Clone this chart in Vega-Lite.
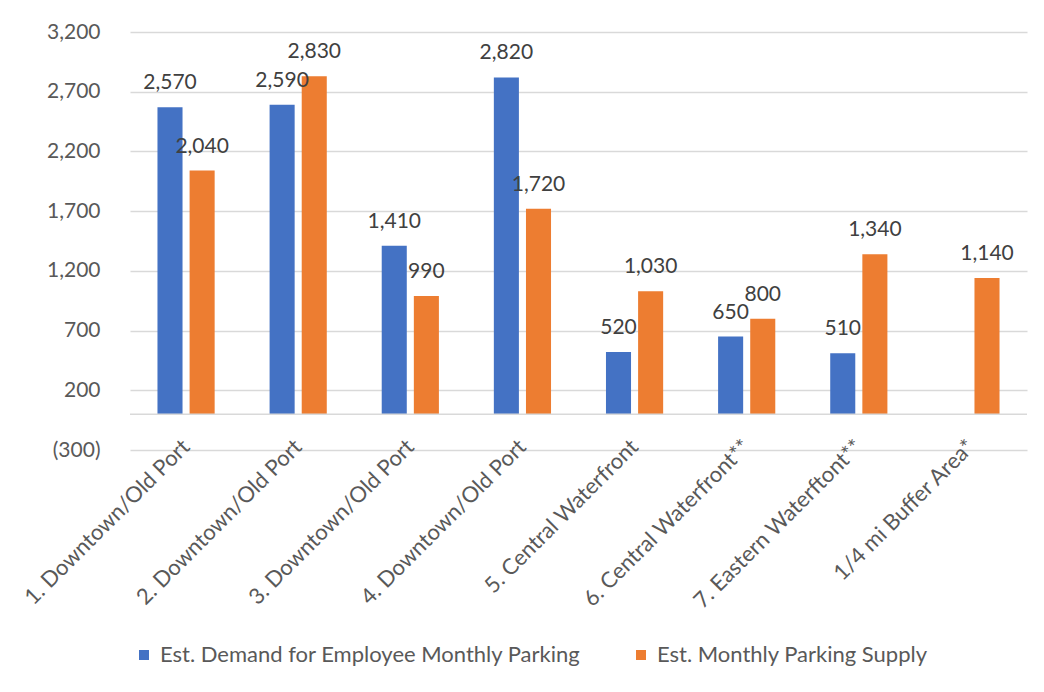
{
  "$schema": "https://vega.github.io/schema/vega-lite/v6.json",
  "width": 897,
  "height": 418,
  "autosize": {"type": "none"},
  "padding": {"left": 130, "top": 32, "right": 17, "bottom": 242},
  "background": "white",
  "config": {
    "font": "Lato",
    "view": {"stroke": null}
  },
  "data": {
    "values": [
      {"area": "1. Downtown/Old Port", "series": "Est. Demand for Employee Monthly Parking", "value": 2570},
      {"area": "1. Downtown/Old Port", "series": "Est. Monthly Parking Supply", "value": 2040},
      {"area": "2. Downtown/Old Port", "series": "Est. Demand for Employee Monthly Parking", "value": 2590},
      {"area": "2. Downtown/Old Port", "series": "Est. Monthly Parking Supply", "value": 2830},
      {"area": "3. Downtown/Old Port", "series": "Est. Demand for Employee Monthly Parking", "value": 1410},
      {"area": "3. Downtown/Old Port", "series": "Est. Monthly Parking Supply", "value": 990},
      {"area": "4. Downtown/Old Port", "series": "Est. Demand for Employee Monthly Parking", "value": 2820},
      {"area": "4. Downtown/Old Port", "series": "Est. Monthly Parking Supply", "value": 1720},
      {"area": "5. Central Waterfront", "series": "Est. Demand for Employee Monthly Parking", "value": 520},
      {"area": "5. Central Waterfront", "series": "Est. Monthly Parking Supply", "value": 1030},
      {"area": "6. Central Waterfront**", "series": "Est. Demand for Employee Monthly Parking", "value": 650},
      {"area": "6. Central Waterfront**", "series": "Est. Monthly Parking Supply", "value": 800},
      {"area": "7. Eastern Waterftont**", "series": "Est. Demand for Employee Monthly Parking", "value": 510},
      {"area": "7. Eastern Waterftont**", "series": "Est. Monthly Parking Supply", "value": 1340},
      {"area": "1/4 mi Buffer Area*", "series": "Est. Monthly Parking Supply", "value": 1140}
    ]
  },
  "encoding": {
    "x": {
      "field": "area",
      "type": "nominal",
      "sort": ["1. Downtown/Old Port", "2. Downtown/Old Port", "3. Downtown/Old Port", "4. Downtown/Old Port", "5. Central Waterfront", "6. Central Waterfront**", "7. Eastern Waterftont**", "1/4 mi Buffer Area*"],
      "scale": {"paddingInner": 0.49, "paddingOuter": 0.245},
      "axis": {
        "title": null,
        "domain": false,
        "ticks": false,
        "grid": false,
        "labelAngle": -45,
        "labelAlign": "right",
        "labelBaseline": "middle",
        "labelFontSize": 22,
        "labelColor": "#595959",
        "labelPadding": -7,
        "labelLimit": 400
      }
    },
    "xOffset": {
      "field": "series",
      "type": "nominal",
      "scale": {"paddingInner": 0.22, "paddingOuter": 0}
    }
  },
  "layer": [
    {
      "mark": {"type": "bar"},
      "encoding": {
        "y": {
          "field": "value",
          "type": "quantitative",
          "scale": {"domain": [-300, 3200], "nice": false},
          "axis": {
            "title": null,
            "values": [-300, 200, 700, 1200, 1700, 2200, 2700, 3200],
            "labelExpr": "datum.value < 0 ? '(' + format(-datum.value, ',') + ')' : format(datum.value, ',')",
            "domain": false,
            "ticks": false,
            "grid": true,
            "gridColor": "#d9d9d9",
            "gridWidth": 1.3,
            "labelFontSize": 21,
            "labelColor": "#595959",
            "labelPadding": 30
          }
        },
        "color": {
          "field": "series",
          "type": "nominal",
          "scale": {"range": ["#4472C4", "#ED7D31"]},
          "legend": {
            "title": null,
            "orient": "none",
            "direction": "horizontal",
            "legendX": 3,
            "legendY": 612,
            "symbolType": "square",
            "symbolSize": 100,
            "symbolStrokeWidth": 0,
            "labelFontSize": 22,
            "labelColor": "#595959",
            "labelOffset": 5,
            "columnPadding": 49,
            "labelLimit": 500
          }
        }
      }
    },
    {
      "mark": {"type": "text", "baseline": "bottom", "dy": -14, "fontSize": 21, "color": "#404040"},
      "encoding": {
        "y": {"field": "value", "type": "quantitative"},
        "text": {"field": "value", "type": "quantitative", "format": ","}
      }
    },
    {
      "data": {"values": [{"base": 0}]},
      "mark": {"type": "rule", "color": "#d9d9d9", "strokeWidth": 1.5},
      "encoding": {
        "y": {"field": "base", "type": "quantitative"},
        "x": {"value": 0},
        "x2": {"value": 897},
        "xOffset": null
      }
    }
  ]
}
